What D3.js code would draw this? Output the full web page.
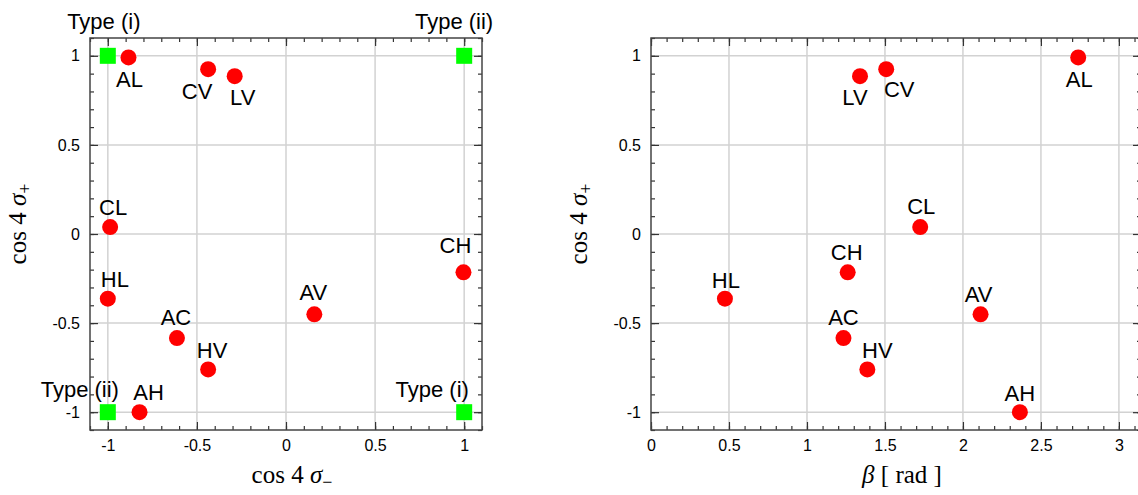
<!DOCTYPE html>
<html><head><meta charset="utf-8">
<script src="https://cdn.jsdelivr.net/npm/d3@7"></script>
<style>
html,body{margin:0;padding:0;background:#fff;}
svg{display:block;}
.tick text{font-family:"Liberation Sans",Arial,sans-serif;font-size:16px;fill:#000;}
</style></head>
<body>
<svg id="chart" width="1138" height="495"></svg>
<script>
// ---- data ----
const pointLabels   = ["AL","CV","LV","CL","HL","AC","HV","AH","AV","CH"];
const cosSigmaMinus = [-0.884,-0.437,-0.288,-0.987,-1.0,-0.612,-0.437,-0.822,0.159,0.996];
const cosSigmaPlus  = [0.991,0.925,0.886,0.039,-0.363,-0.584,-0.760,-1.0,-0.451,-0.215];
const betaRad       = [2.739,1.508,1.340,1.726,0.474,1.234,1.387,2.365,2.113,1.261];
const typeX     = [-1, 1, -1, 1];
const typeY     = [1, 1, -1, -1];
const typeNames = ["Type (i)","Type (ii)","Type (ii)","Type (i)"];
const cosTicks   = [-1,-0.5,0,0.5,1];
const cosTickLbl = ["-1","-0.5","0","0.5","1"];
const betaTicks  = [0,0.5,1,1.5,2,2.5,3];
const betaTickLbl= ["0","0.5","1","1.5","2","2.5","3"];

// ---- label placement (layout, px offsets from marker) ----
const leftLabelDx  = [1,-11,8,3,7,-1,4,9,-1,-8];
const leftLabelDy  = [30,30,29,-12,-12,-13,-11,-12,-14,-19];
const rightLabelDx = [1,13,-5,1,1,0,10,0,-2,-1];
const rightLabelDy = [30,28,29,-13,-11,-13,-11,-11,-12,-12];
const typeDx = [-4,29,-28,-32];
const typeDy = [-27,-27,-15,-15];
const typeAnchor = ["middle","end","middle","middle"];

const svg = d3.select("#chart");
const H = 392, TOP = 38;

function panel(left, plotW, xDomain, xVals, xTicks, xTickLbl, xMinor, dxArr, dyArr, xTitleNode, showTypes){
  const g = svg.append("g").attr("transform",`translate(${left},${TOP})`);
  const x = d3.scaleLinear().domain(xDomain).range([0, plotW]);
  const y = d3.scaleLinear().domain([-1.1,1.1]).range([H,0]);

  // grid
  g.append("g").selectAll("line").data(xTicks.filter(t=>t>xDomain[0])).join("line")
    .attr("x1",d=>x(d)).attr("x2",d=>x(d)).attr("y1",0).attr("y2",H)
    .attr("stroke","#d2d2d2").attr("stroke-width",1.5);
  g.append("g").selectAll("line").data(cosTicks).join("line")
    .attr("x1",0).attr("x2",plotW).attr("y1",d=>y(d)).attr("y2",d=>y(d))
    .attr("stroke","#d2d2d2").attr("stroke-width",1.5);

  const yMinor = d3.range(-11,12).map(v=>v/10);
  const axStyle = a => { a.select(".domain").remove(); a.selectAll(".tick line").attr("stroke","#333").attr("stroke-width",1.2); };

  // bottom
  g.append("g").attr("transform",`translate(0,${H})`)
    .call(d3.axisBottom(x).tickValues(xMinor).tickSize(-4).tickFormat("")).call(axStyle);
  g.append("g").attr("transform",`translate(0,${H})`)
    .call(d3.axisBottom(x).tickValues(xTicks).tickSize(-8).tickPadding(10).tickFormat((d,i)=>xTickLbl[i])).call(axStyle);
  // top
  g.append("g").call(d3.axisTop(x).tickValues(xMinor).tickSize(-4).tickFormat("")).call(axStyle);
  g.append("g").call(d3.axisTop(x).tickValues(xTicks).tickSize(-8).tickFormat("")).call(axStyle);
  // left
  g.append("g").call(d3.axisLeft(y).tickValues(yMinor).tickSize(-4).tickFormat("")).call(axStyle);
  g.append("g").call(d3.axisLeft(y).tickValues(cosTicks).tickSize(-8).tickPadding(10).tickFormat((d,i)=>cosTickLbl[i])).call(axStyle);
  // right
  g.append("g").attr("transform",`translate(${plotW},0)`)
    .call(d3.axisRight(y).tickValues(yMinor).tickSize(-4).tickFormat("")).call(axStyle);
  g.append("g").attr("transform",`translate(${plotW},0)`)
    .call(d3.axisRight(y).tickValues(cosTicks).tickSize(-8).tickFormat("")).call(axStyle);

  g.append("rect").attr("x",0).attr("y",0).attr("width",plotW).attr("height",H)
    .attr("fill","none").attr("stroke","#444").attr("stroke-width",1.5);

  // type corner markers
  if(showTypes){
    g.append("g").selectAll("rect").data(typeX).join("rect")
      .attr("x",(d,i)=>x(d)-8).attr("y",(d,i)=>y(typeY[i])-8)
      .attr("width",16).attr("height",16).attr("fill","#00ff00");
    g.append("g").selectAll("text").data(typeNames).join("text")
      .attr("x",(d,i)=>x(typeX[i])+typeDx[i]).attr("y",(d,i)=>y(typeY[i])+typeDy[i])
      .attr("text-anchor",(d,i)=>typeAnchor[i])
      .attr("font-family","'Liberation Sans',Arial,sans-serif").attr("font-size",22)
      .attr("fill","#000").text(d=>d);
  }

  // points
  g.append("g").selectAll("circle").data(xVals).join("circle")
    .attr("cx",d=>x(d)).attr("cy",(d,i)=>y(cosSigmaPlus[i])).attr("r",8).attr("fill","#ff0000");
  g.append("g").selectAll("text").data(pointLabels).join("text")
    .attr("x",(d,i)=>x(xVals[i])+dxArr[i]).attr("y",(d,i)=>y(cosSigmaPlus[i])+dyArr[i])
    .attr("text-anchor","middle")
    .attr("font-family","'Liberation Sans',Arial,sans-serif").attr("font-size",22)
    .attr("fill","#000").text(d=>d);

  // y title
  const yt = svg.append("text")
    .attr("transform",`translate(${left-64},${TOP+H/2-10}) rotate(-90)`)
    .attr("text-anchor","middle")
    .attr("font-family","'Liberation Serif','Times New Roman',serif").attr("font-size",25).attr("fill","#000");
  yt.append("tspan").text("cos 4 ");
  yt.append("tspan").attr("font-style","italic").text("σ");
  yt.append("tspan").attr("font-size",18).attr("dy",5).text("+");

  // x title
  const xt = svg.append("text")
    .attr("x",left+plotW/2+6).attr("y",TOP+H+53)
    .attr("text-anchor","middle")
    .attr("font-family","'Liberation Serif','Times New Roman',serif").attr("font-size",25).attr("fill","#000");
  xTitleNode(xt);
}

panel(90,392,[-1.1,1.1],cosSigmaMinus,cosTicks,cosTickLbl,d3.range(-11,12).map(v=>v/10),
  leftLabelDx,leftLabelDy,
  t=>{ t.append("tspan").text("cos 4 "); t.append("tspan").attr("font-style","italic").text("σ");
       t.append("tspan").attr("font-size",18).attr("dy",5).text("−"); }, true);

panel(651,490,[0,Math.PI],betaRad,betaTicks,betaTickLbl,d3.range(0,32).map(v=>v/10),
  rightLabelDx,rightLabelDy,
  t=>{ t.append("tspan").attr("font-style","italic").text("β"); t.append("tspan").text(" [ rad ]"); }, false);
</script>
</body></html>
